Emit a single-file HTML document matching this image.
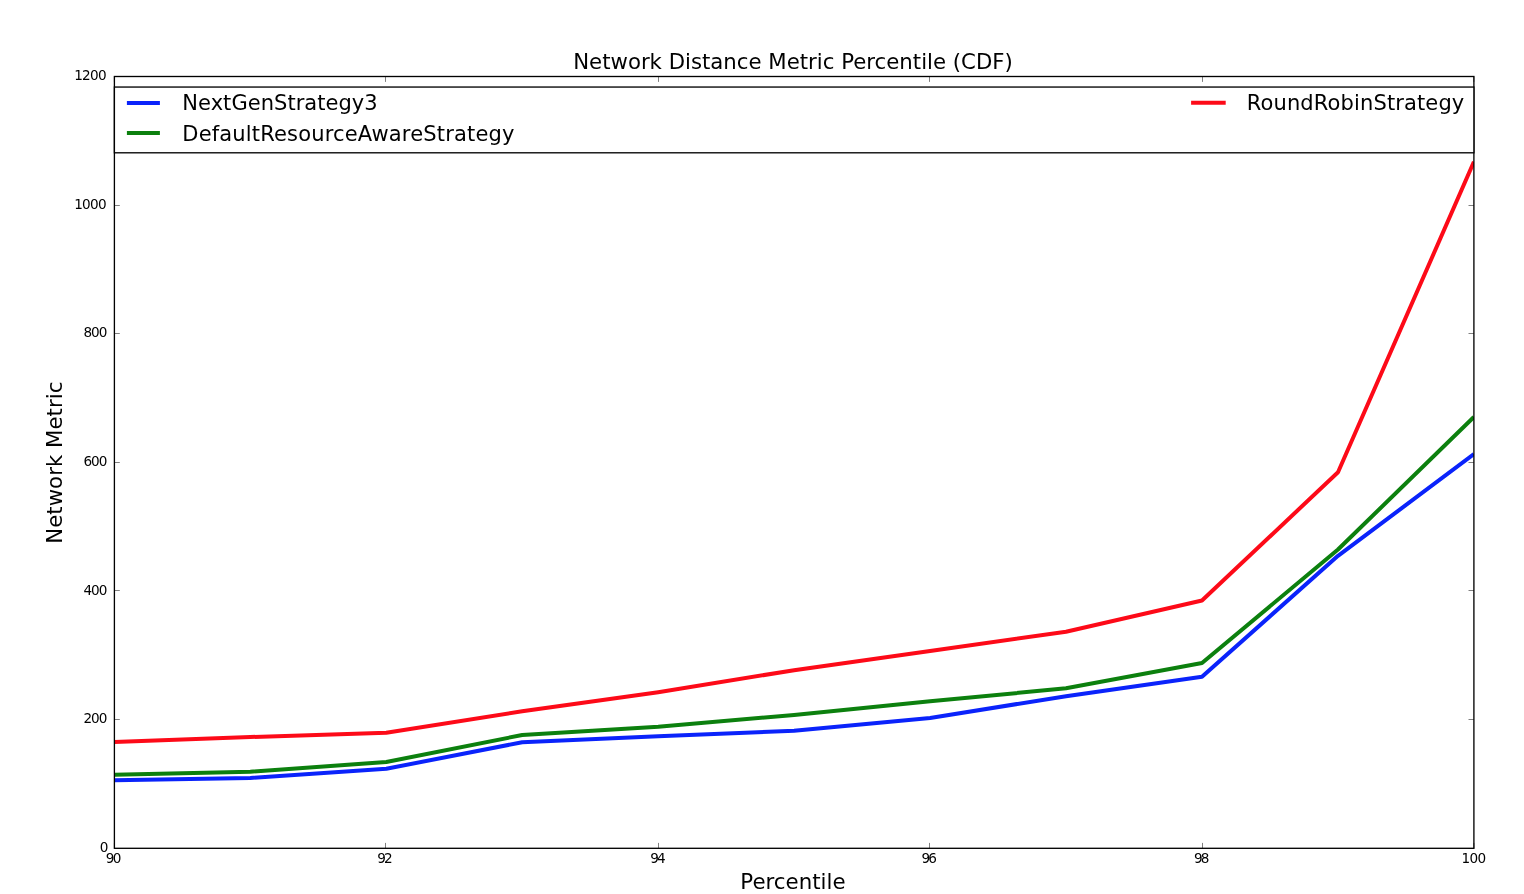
<!DOCTYPE html>
<html lang="en"><head><meta charset="utf-8"><title>Network Distance Metric Percentile (CDF)</title>
<style>html,body{margin:0;padding:0;background:#fff;overflow:hidden}svg{display:block;will-change:transform;opacity:.9999}text{font-family:"DejaVu Sans","Liberation Sans",sans-serif;fill:#000}</style></head><body>
<svg width="1524" height="894" viewBox="0 0 1524 894">
<rect width="1524" height="894" fill="#fff"/>
<defs><clipPath id="ax"><rect x="114.4" y="76.5" width="1359.5" height="771.8"/></clipPath></defs>
<g clip-path="url(#ax)" fill="none" stroke-width="4" stroke-linejoin="round" stroke-linecap="butt">
<polyline stroke="#0a23fb" points="114.4,780.3 250.3,778.0 386.3,768.8 522.2,742.2 658.2,736.2 794.1,730.8 930.1,718.0 1066.0,696.2 1202.0,676.7 1338.0,555.8 1473.9,454.2"/>
<polyline stroke="#0c800e" points="114.4,774.7 250.3,771.7 386.3,762.0 522.2,735.0 658.2,726.7 794.1,715.0 930.1,701.3 1066.0,688.3 1202.0,663.0 1338.0,549.5 1473.9,417.0"/>
<polyline stroke="#fd0a18" points="114.4,742.0 250.3,737.0 386.3,732.7 522.2,711.3 658.2,692.2 794.1,670.2 930.1,651.0 1066.0,631.7 1202.0,600.5 1338.0,472.3 1473.9,161.8"/>
</g>
<path d="M114.40 848.30v-5.40 M114.40 76.50v5.40 M385.50 848.30v-5.40 M385.50 76.50v5.40 M658.50 848.30v-5.40 M658.50 76.50v5.40 M929.50 848.30v-5.40 M929.50 76.50v5.40 M1202.50 848.30v-5.40 M1202.50 76.50v5.40 M1473.90 848.30v-5.40 M1473.90 76.50v5.40 M114.40 848.50h5.40 M1473.90 848.50h-5.40 M114.40 719.50h5.40 M1473.90 719.50h-5.40 M114.40 590.50h5.40 M1473.90 590.50h-5.40 M114.40 462.50h5.40 M1473.90 462.50h-5.40 M114.40 333.50h5.40 M1473.90 333.50h-5.40 M114.40 205.50h5.40 M1473.90 205.50h-5.40 M114.40 76.50h5.40 M1473.90 76.50h-5.40" stroke="#000" stroke-width="0.5" fill="none"/>
<rect x="114.40" y="76.50" width="1359.50" height="771.80" fill="none" stroke="#000" stroke-width="1.33"/>
<rect x="114.40" y="87.05" width="1359.50" height="65.75" fill="#fff" stroke="#000" stroke-width="1.33"/>
<g stroke-width="4" fill="none">
<path d="M126.9 102.9H159.9" stroke="#0a23fb"/>
<path d="M126.9 133.1H159.9" stroke="#0c800e"/>
<path d="M1191.1 102.8H1225.7" stroke="#fd0a18"/>
</g>
<text x="182.30" y="110.00" font-size="21.00" text-anchor="start" textLength="195.4" lengthAdjust="spacing">NextGenStrategy3</text>
<text x="182.30" y="140.60" font-size="21.00" text-anchor="start" textLength="332.1" lengthAdjust="spacing">DefaultResourceAwareStrategy</text>
<text x="1246.70" y="110.00" font-size="21.00" text-anchor="start" textLength="217.6" lengthAdjust="spacing">RoundRobinStrategy</text>
<text x="793.00" y="69.00" font-size="21.26" text-anchor="middle">Network Distance Metric Percentile (CDF)</text>
<text x="792.90" y="888.70" font-size="21.33" text-anchor="middle">Percentile</text>
<text transform="translate(61.9 462.7) rotate(-90)" font-size="21.33" text-anchor="middle">Network Metric</text>
<text transform="translate(112.67 863.40) scale(1 1.080)" font-size="13.60" text-anchor="middle" letter-spacing="-1.85" fill="#2b2b2b">90</text>
<text transform="translate(384.12 863.40) scale(1 1.080)" font-size="13.60" text-anchor="middle" letter-spacing="-1.85" fill="#2b2b2b">92</text>
<text transform="translate(657.12 863.40) scale(1 1.080)" font-size="13.60" text-anchor="middle" letter-spacing="-1.85" fill="#2b2b2b">94</text>
<text transform="translate(928.23 863.40) scale(1 1.080)" font-size="13.60" text-anchor="middle" letter-spacing="-1.85" fill="#2b2b2b">96</text>
<text transform="translate(1200.88 863.40) scale(1 1.080)" font-size="13.60" text-anchor="middle" letter-spacing="-1.85" fill="#2b2b2b">98</text>
<text transform="translate(1473.45 863.40) scale(1 1.080)" font-size="13.60" text-anchor="middle" letter-spacing="-0.60" fill="#2b2b2b">100</text>
<text transform="translate(108.40 851.80) scale(1 1.080)" font-size="13.60" text-anchor="end" letter-spacing="0.00" fill="#2b2b2b">0</text>
<text transform="translate(106.40 723.17) scale(1 1.080)" font-size="13.60" text-anchor="end" letter-spacing="-1.00" fill="#2b2b2b">200</text>
<text transform="translate(106.40 594.53) scale(1 1.080)" font-size="13.60" text-anchor="end" letter-spacing="-1.00" fill="#2b2b2b">400</text>
<text transform="translate(106.40 465.90) scale(1 1.080)" font-size="13.60" text-anchor="end" letter-spacing="-1.00" fill="#2b2b2b">600</text>
<text transform="translate(106.40 337.27) scale(1 1.080)" font-size="13.60" text-anchor="end" letter-spacing="-1.00" fill="#2b2b2b">800</text>
<text transform="translate(105.90 208.63) scale(1 1.080)" font-size="13.60" text-anchor="end" letter-spacing="-0.72" fill="#2b2b2b">1000</text>
<text transform="translate(105.90 80.00) scale(1 1.080)" font-size="13.60" text-anchor="end" letter-spacing="-0.72" fill="#2b2b2b">1200</text>
</svg></body></html>
